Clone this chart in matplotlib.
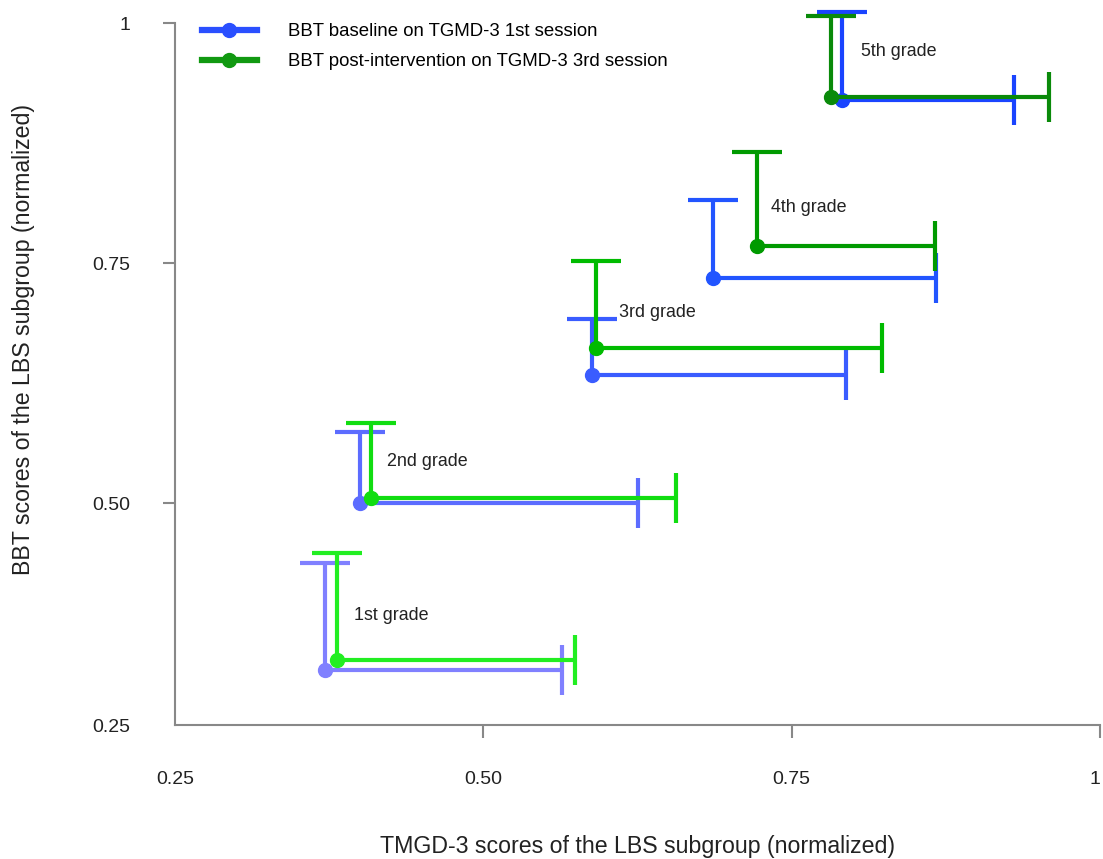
import matplotlib
matplotlib.use("Agg")
import matplotlib.pyplot as plt
from matplotlib.lines import Line2D

plt.rcParams['font.family'] = ['Liberation Sans', 'DejaVu Sans']

# values
grades = ["1st grade", "2nd grade", "3rd grade", "4th grade", "5th grade"]
# baseline (1st session)
base_x = [0.372, 0.400, 0.588, 0.686, 0.791]
base_y = [0.326, 0.500, 0.633, 0.734, 0.920]
base_xhi = [0.564, 0.625, 0.794, 0.867, 0.930]
base_yhi = [0.4375, 0.574, 0.692, 0.816, 1.011]
# post-intervention (3rd session)
post_x = [0.381, 0.409, 0.591, 0.722, 0.782]
post_y = [0.336, 0.505, 0.661, 0.768, 0.923]
post_xhi = [0.574, 0.656, 0.823, 0.866, 0.959]
post_yhi = [0.448, 0.583, 0.752, 0.866, 1.007]
# label positions
lab_x = [0.395, 0.4215, 0.610, 0.733, 0.806]
lab_y = [0.383, 0.543, 0.698, 0.808, 0.970]

blues = ["#8080ff", "#5c6cff", "#3a5cff", "#2255ff", "#1a44ff"]
greens = ["#22ee22", "#11dd11", "#00bb00", "#009a00", "#0a8a0a"]

fig = plt.figure(figsize=(11.03, 8.59), dpi=100)
ax = fig.add_axes([175/1103, 134/859, 925/1103, 721.2/859])


def one_sided(x, y, xhi, yhi, c):
    # only the upper error is drawn, cap at the far end
    ax.plot([x, xhi], [y, y], color=c, lw=3, clip_on=False, solid_capstyle='butt')
    ax.plot([x, x], [y, yhi], color=c, lw=3, clip_on=False, solid_capstyle='butt')
    ax.plot(xhi, y, marker='|', ms=36, mew=3, color=c, clip_on=False)
    ax.plot(x, yhi, marker='_', ms=36, mew=3, color=c, clip_on=False)
    ax.plot(x, y, marker='o', ms=10, color=c, clip_on=False)


for i in range(5):
    one_sided(base_x[i], base_y[i], base_xhi[i], base_yhi[i], blues[i])
    one_sided(post_x[i], post_y[i], post_xhi[i], post_yhi[i], greens[i])
    ax.text(lab_x[i], lab_y[i], grades[i], fontsize=12.9, va='center', ha='left', color='#222222')

ybot = 1 - 702/960
ax.set_xlim(0.25, 1.0)
ax.set_ylim(ybot, 1.02)
for s in ['top', 'right']:
    ax.spines[s].set_visible(False)
for s in ['left', 'bottom']:
    ax.spines[s].set_color('#888888')
    ax.spines[s].set_linewidth(1.5)
ax.spines['left'].set_bounds(ybot, 1.0)

ax.set_xticks([0.25, 0.5, 0.75, 1.0], ['0.25', '0.50', '0.75', '1'])
ax.set_yticks([ybot, 0.5, 0.75, 1.0], ['0.25', '0.50', '0.75', '1'])
ax.tick_params(axis='both', length=9, width=1.5, color='#888888', labelsize=14, labelcolor='#222222')
ax.tick_params(axis='x', pad=24)
ax.tick_params(axis='y', pad=23)
ax.xaxis.get_major_ticks()[0].tick1line.set_visible(False)
ax.yaxis.get_major_ticks()[0].tick1line.set_visible(False)
ax.get_xticklabels()[-1].set_ha('right')

ax.set_xlabel("TMGD-3 scores of the LBS subgroup (normalized)", fontsize=16.7, color='#222222')
ax.set_ylabel("BBT scores of the LBS subgroup (normalized)", fontsize=16.7, color='#222222')
ax.xaxis.set_label_coords(0.5, -0.153)
ax.yaxis.set_label_coords(-0.151, 0.535)

handles = [Line2D([], [], color='#2a4fff', lw=4.5, marker='o', ms=10),
           Line2D([], [], color='#119911', lw=4.5, marker='o', ms=10)]
ax.legend(handles, ["BBT baseline on TGMD-3 1st session", "BBT post-intervention on TGMD-3 3rd session"],
          loc='upper left', bbox_to_anchor=(202/1103, 1 - 23/859), bbox_transform=fig.transFigure,
          frameon=False, fontsize=13.4, handlelength=2.95, handletextpad=1.67, labelspacing=0.72,
          borderaxespad=0, borderpad=0)

fig.savefig("out.png", dpi=100)
